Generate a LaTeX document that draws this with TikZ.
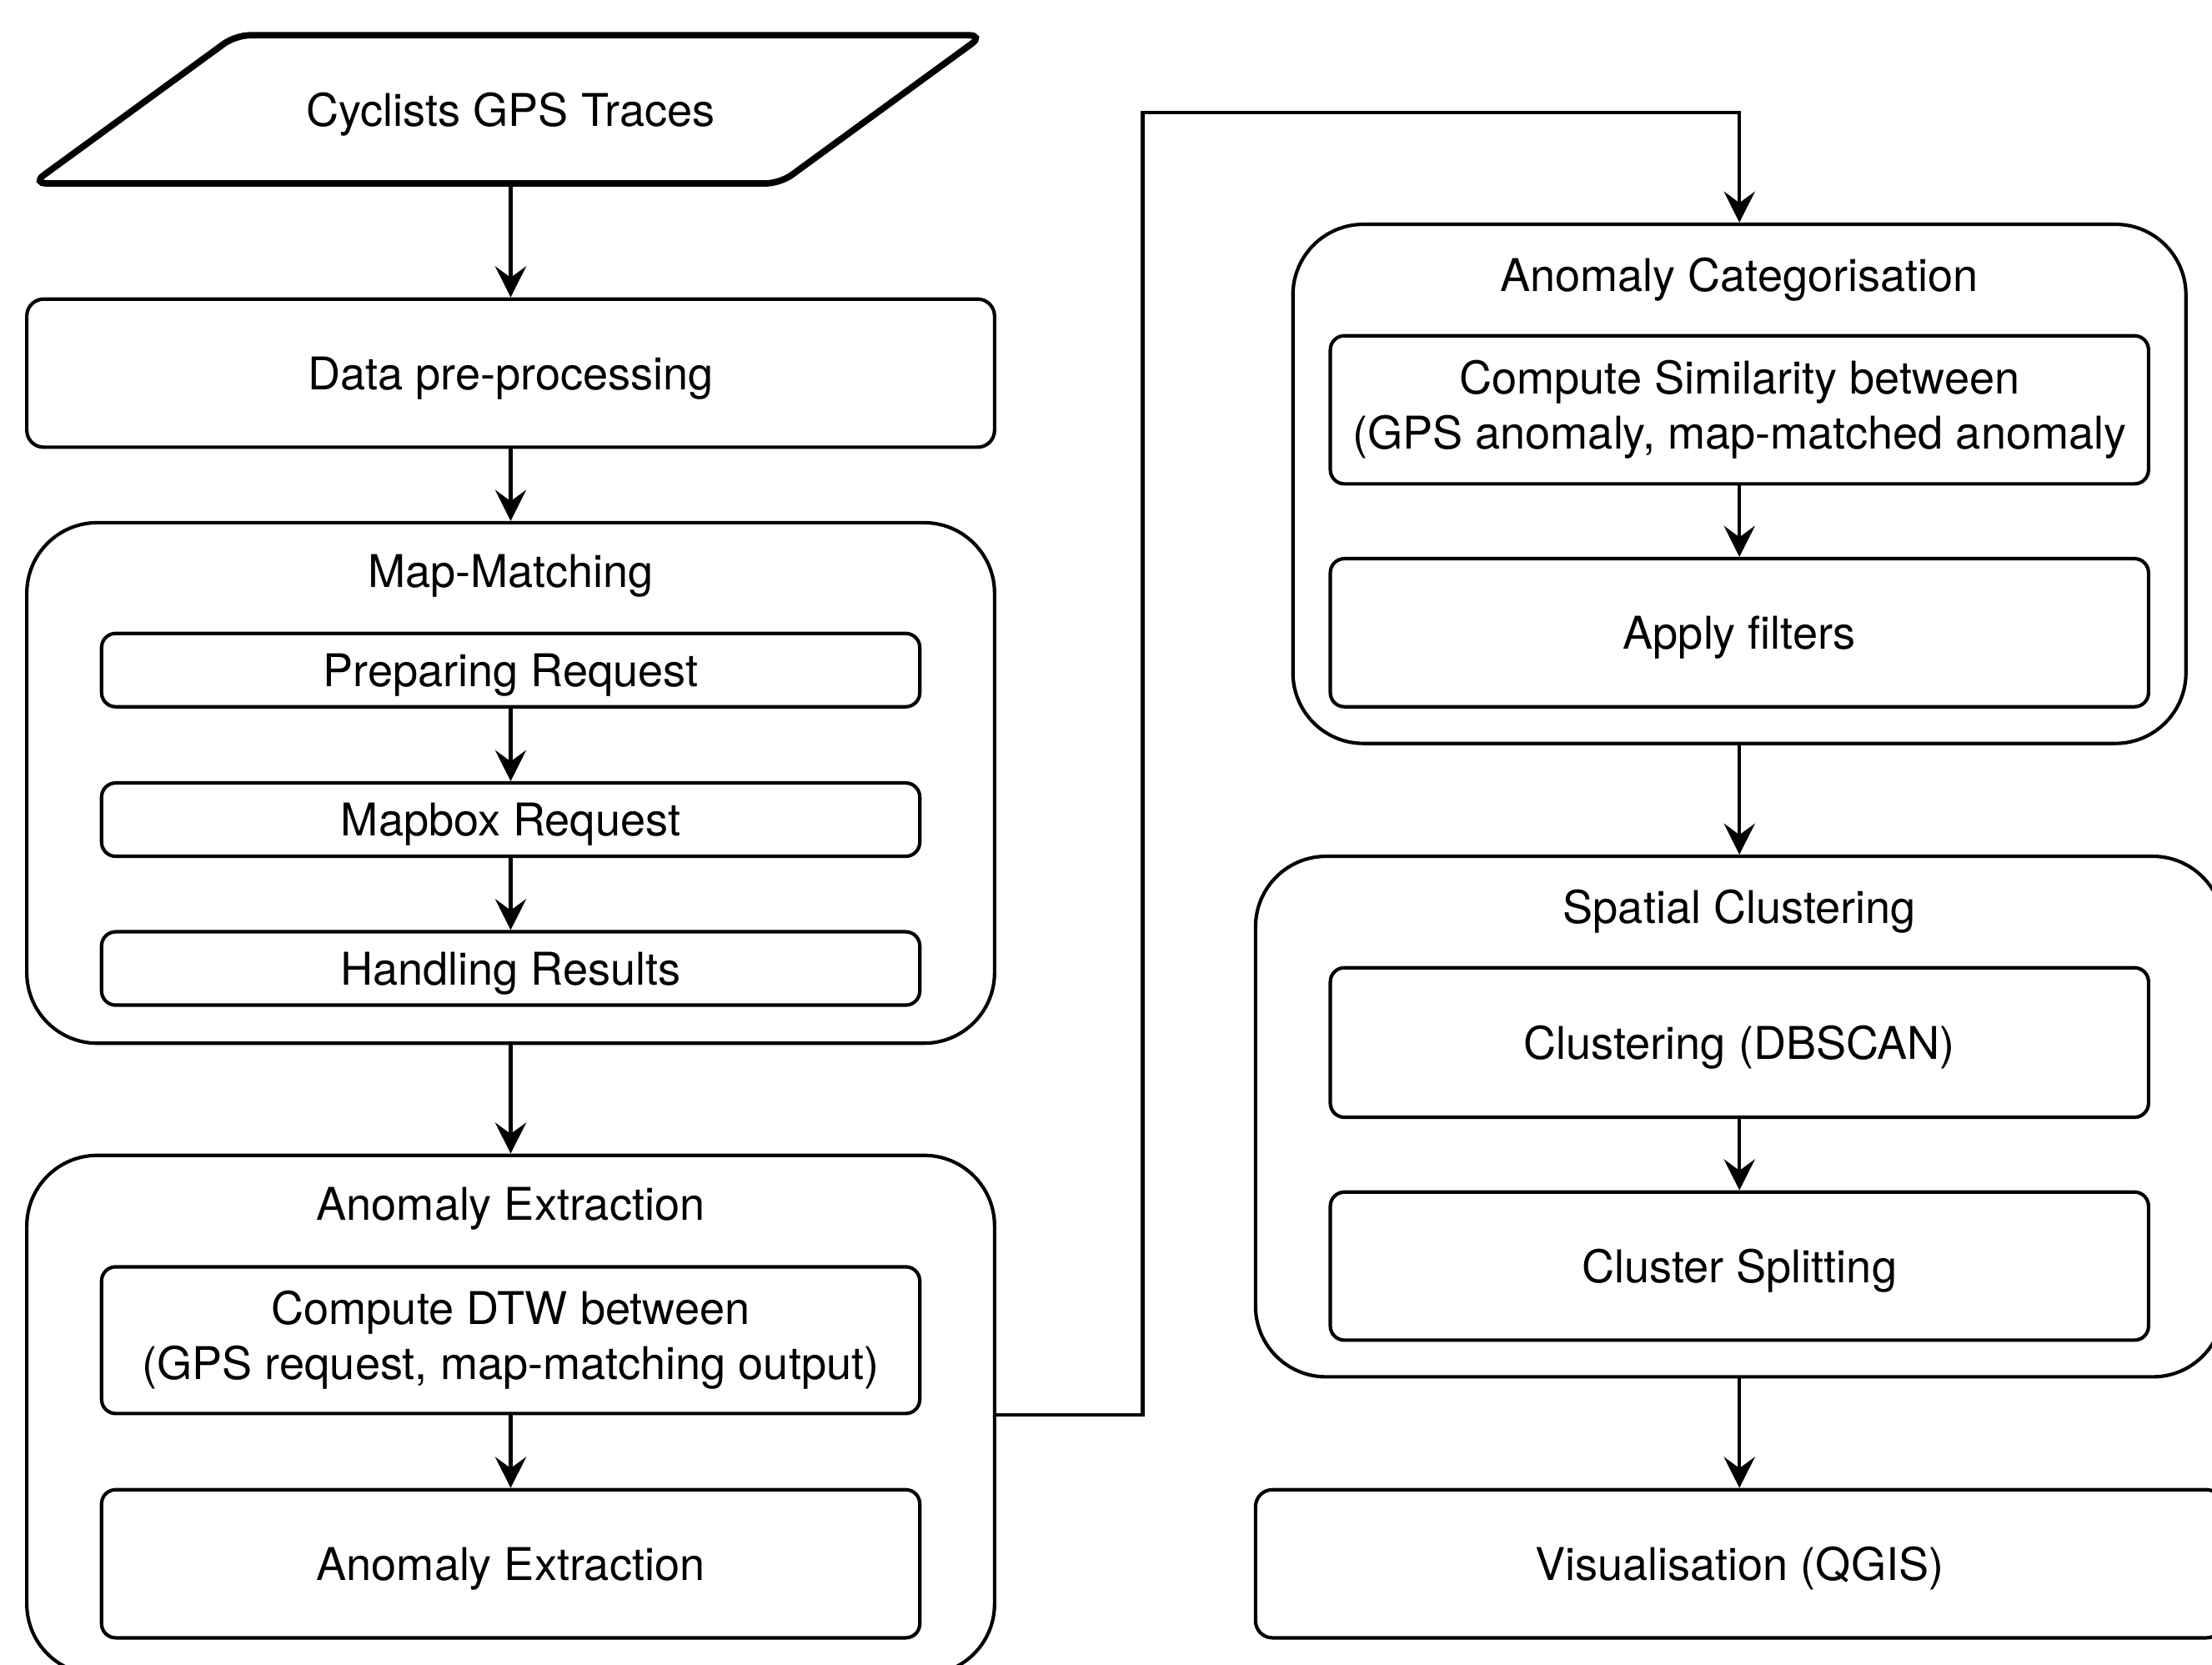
\documentclass[tikz,border=0pt]{standalone}
\usepackage{fontspec}
\setmainfont{TeX Gyre Heros}
\usetikzlibrary{arrows.meta}

\begin{document}
\begin{tikzpicture}[font=\fontsize{9.1}{11.1}\selectfont]
    \tikzstyle{group box}=[
        draw = black,
        line width = 0.7pt,
        rounded corners = 0.5cm,
        minimum width = 6.86cm,
        minimum height = 3.69cm
    ]
    \tikzstyle{main box}=[
        draw = black,
        line width = 0.7pt,
        rounded corners = 0.12cm,
        minimum width = 6.86cm,
        minimum height = 1.05cm,
        text depth = 0pt
    ]
    \tikzstyle{inner box}=[
        draw = black,
        line width = 0.7pt,
        rounded corners = 0.1cm,
        minimum width = 5.80cm,
        align = center
    ]
    \tikzstyle{one line}=[text depth = 0pt]
    \tikzstyle{flow}=[
        -{Stealth[length=2.2mm, width=2.2mm, inset=0.8mm]},
        line width = 0.7pt
    ]

    \clip (0, 0) rectangle (15.68, -11.80);

    % input traces
    \draw[line width=1.3pt, rounded corners=0.1cm]
        (0.23, -1.30) -- (5.53, -1.30) -- (6.97, -0.25) -- (1.67, -0.25) -- cycle;
    \node (traces) at (3.62, -0.81) {Cyclists GPS Traces};
    \coordinate (tracesb) at (3.62, -1.30);

    % left column
    \node[main box]  (prep)   at (3.62, -2.645) {Data pre-processing};
    \node[group box] (mapm)   at (3.62, -5.55)  {};
    \node            (mapmt)  at (3.62, -4.08)  {Map-Matching};
    \node[inner box, one line, minimum height=0.52cm] (req)    at (3.62, -4.75)  {Preparing Request};
    \node[inner box, one line, minimum height=0.52cm] (mapbox) at (3.62, -5.81)  {Mapbox Request};
    \node[inner box, one line, minimum height=0.52cm] (handle) at (3.62, -6.865) {Handling Results};

    \node[group box, minimum height=3.68cm] (extr) at (3.62, -10.03) {};
    \node            (extrt)  at (3.62, -8.57)  {Anomaly Extraction};
    \node[inner box, minimum height=1.04cm] (dtw)  at (3.62, -9.50)
        {Compute DTW between\\(GPS request, map-matching output)};
    \node[inner box, one line, minimum height=1.05cm] (anex) at (3.62, -11.085) {Anomaly Extraction};

    % right column
    \node[group box, minimum width=6.33cm, minimum height=3.68cm] (cat) at (12.33, -3.43) {};
    \node            (catt)   at (12.33, -1.98) {Anomaly Categorisation};
    \node[inner box, minimum height=1.05cm] (sim)  at (12.33, -2.905)
        {Compute Similarity between\\(GPS anomaly, map-matched anomaly};
    \node[inner box, one line, minimum height=1.05cm] (filt) at (12.33, -4.485) {Apply filters};

    \node[group box] (clus)   at (12.33, -7.915) {};
    \node            (clust)  at (12.33, -6.46)  {Spatial Clustering};
    \node[inner box, one line, minimum height=1.06cm] (dbscan) at (12.33, -7.39)  {Clustering (DBSCAN)};
    \node[inner box, one line, minimum height=1.05cm] (split)  at (12.33, -8.975) {Cluster Splitting};

    \node[main box]  (vis)    at (12.33, -11.085) {Visualisation (QGIS)};

    \coordinate (turn) at (8.10, -0.80);

    \draw[flow] (tracesb) -- (prep.north);
    \draw[flow] (prep.south) -- (mapm.north);
    \draw[flow] (req.south) -- (mapbox.north);
    \draw[flow] (mapbox.south) -- (handle.north);
    \draw[flow] (mapm.south) -- (extr.north);
    \draw[flow] (dtw.south) -- (anex.north);
    \draw[flow] (extr.east) -| (turn) -| (cat.north);
    \draw[flow] (sim.south) -- (filt.north);
    \draw[flow] (cat.south) -- (clus.north);
    \draw[flow] (dbscan.south) -- (split.north);
    \draw[flow] (clus.south) -- (vis.north);

\end{tikzpicture}
\end{document}
